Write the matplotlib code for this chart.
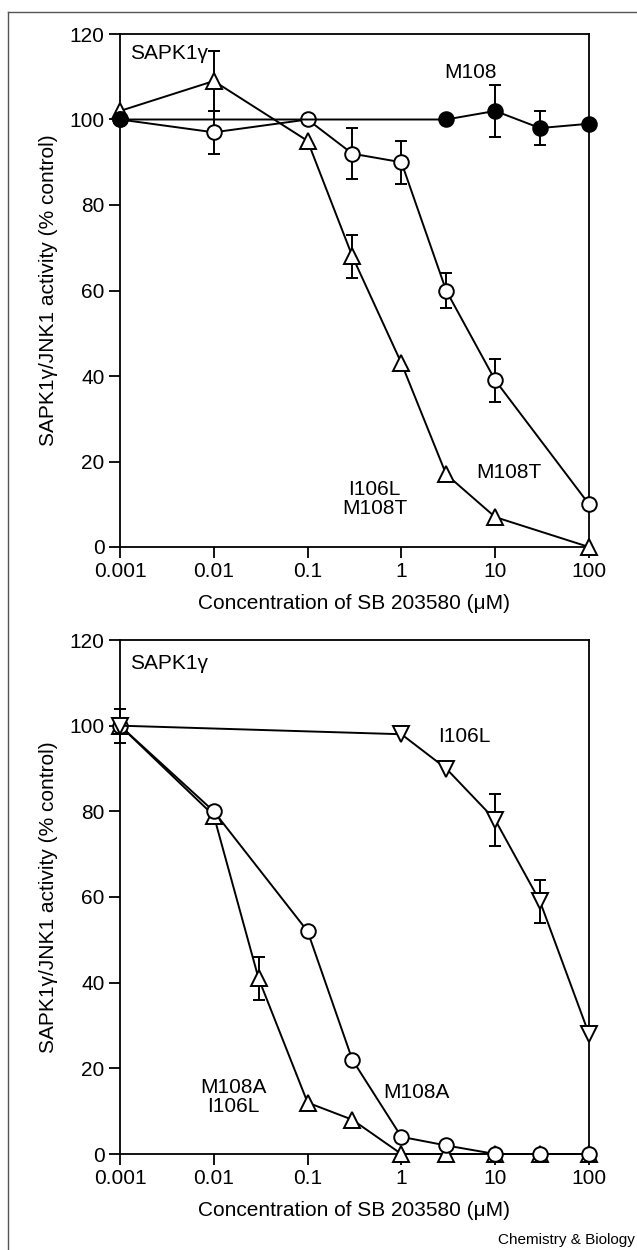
import numpy as np
import matplotlib
matplotlib.use('Agg')
import matplotlib.pyplot as plt
from matplotlib.lines import Line2D
from matplotlib.ticker import NullLocator, FixedLocator, FixedFormatter

plt.rcParams['font.family'] = ['Liberation Sans', 'DejaVu Sans']

conc_ticks = [0.001, 0.01, 0.1, 1, 10, 100]
conc_tick_labels = ['0.001', '0.01', '0.1', '1', '10', '100']
act_ticks = [0, 20, 40, 60, 80, 100, 120]

# ---- top panel data ----
top_wt_x = [0.001, 3, 10, 30, 100]
top_wt_y = [100, 100, 102, 98, 99]
top_wt_err = [0, 0, 6, 4, 0]

top_m108t_x = [0.001, 0.01, 0.1, 0.3, 1, 3, 10, 100]
top_m108t_y = [100, 97, 100, 92, 90, 60, 39, 10]
top_m108t_err = [0, 5, 0, 6, 5, 4, 5, 0]

top_dbl_x = [0.001, 0.01, 0.1, 0.3, 1, 3, 10, 100]
top_dbl_y = [102, 109, 95, 68, 43, 17, 7, 0]
top_dbl_err = [0, 7, 0, 5, 0, 0, 0, 0]

# ---- bottom panel data ----
bot_i106l_x = [0.001, 1, 3, 10, 30, 100]
bot_i106l_y = [100, 98, 90, 78, 59, 28]
bot_i106l_err = [4, 0, 0, 6, 5, 0]

bot_m108a_x = [0.001, 0.01, 0.1, 0.3, 1, 3, 10, 30, 100]
bot_m108a_y = [100, 80, 52, 22, 4, 2, 0, 0, 0]
bot_m108a_err = [0, 0, 0, 0, 0, 0, 0, 0, 0]

bot_dbl_x = [0.001, 0.01, 0.03, 0.1, 0.3, 1, 3, 10, 30, 100]
bot_dbl_y = [100, 79, 41, 12, 8, 0, 0, 0, 0, 0]
bot_dbl_err = [0, 0, 5, 0, 0, 0, 0, 0, 0, 0]

W, H = 637, 1250
fig = plt.figure(figsize=(W / 100, H / 100), dpi=100)

FS = 15
LW = 1.4
MSIZE = {'o': 10.5, '^': 11.5, 'v': 11.5}


def series(ax, x, y, err, marker, filled=False, z=3):
    ax.plot(x, y, color='black', lw=LW, zorder=z, clip_on=False)
    xe = [a for a, e in zip(x, err) if e > 0]
    ye = [b for b, e in zip(y, err) if e > 0]
    ee = [e for e in err if e > 0]
    if xe:
        ax.errorbar(xe, ye, yerr=ee, fmt='none', ecolor='black', elinewidth=LW,
                    capsize=4, capthick=LW, zorder=z - 0.5, clip_on=False)
    ax.plot(x, y, linestyle='none', marker=marker, ms=MSIZE[marker],
            mfc='black' if filled else 'white', mec='black', mew=1.4,
            zorder=z + 0.5, clip_on=False)


def setup(ax):
    ax.set_xscale('log')
    ax.set_xlim(0.001, 100)
    ax.set_ylim(0, 120)
    ax.xaxis.set_major_locator(FixedLocator(conc_ticks))
    ax.xaxis.set_major_formatter(FixedFormatter(conc_tick_labels))
    ax.xaxis.set_minor_locator(NullLocator())
    ax.set_yticks(act_ticks)
    ax.set_yticklabels([str(t) for t in act_ticks])
    ax.tick_params(direction='out', length=8, width=1.3, labelsize=FS, pad=3)
    for s in ax.spines.values():
        s.set_linewidth(1.3)
    ax.set_xlabel('Concentration of SB 203580 (μM)', fontsize=FS, labelpad=9)
    ax.set_ylabel('SAPK1γ/JNK1 activity (% control)', fontsize=FS, labelpad=8)


axL = 120 / W
axW = 469 / W
ax1 = fig.add_axes([axL, 1 - 547 / H, axW, 513 / H])
ax2 = fig.add_axes([axL, 1 - 1154 / H, axW, 514 / H])

setup(ax1)
series(ax1, top_dbl_x, top_dbl_y, top_dbl_err, '^', z=3)
series(ax1, top_m108t_x, top_m108t_y, top_m108t_err, 'o', z=4)
series(ax1, top_wt_x, top_wt_y, top_wt_err, 'o', filled=True, z=5)
ax1.text(0.00128, 115.5, 'SAPK1γ', fontsize=FS, va='center', ha='left')
ax1.text(5.4, 111, 'M108', fontsize=FS, va='center', ha='center')
ax1.text(0.52, 11.2, 'I106L\nM108T', fontsize=FS, va='center', ha='center',
         linespacing=1.0)
ax1.text(14, 17.5, 'M108T', fontsize=FS, va='center', ha='center')

setup(ax2)
series(ax2, bot_dbl_x, bot_dbl_y, bot_dbl_err, '^', z=3)
series(ax2, bot_m108a_x, bot_m108a_y, bot_m108a_err, 'o', z=4)
series(ax2, bot_i106l_x, bot_i106l_y, bot_i106l_err, 'v', z=5)
ax2.text(0.00128, 114.6, 'SAPK1γ', fontsize=FS, va='center', ha='left')
ax2.text(4.7, 97.4, 'I106L', fontsize=FS, va='center', ha='center')
ax2.text(0.016, 13.4, 'M108A\nI106L', fontsize=FS, va='center', ha='center',
         linespacing=1.0)
ax2.text(1.44, 14.3, 'M108A', fontsize=FS, va='center', ha='center')

# journal frame
fig.add_artist(Line2D([8 / W, 1.0], [1 - 12 / H, 1 - 12 / H], color='#555555', lw=1.0))
fig.add_artist(Line2D([8 / W, 8 / W], [0, 1 - 12 / H], color='#555555', lw=1.0))

fig.text(635 / W, 1 - 1240 / H, 'Chemistry & Biology', fontsize=11,
         ha='right', va='center')

fig.savefig('out.png', dpi=100)
